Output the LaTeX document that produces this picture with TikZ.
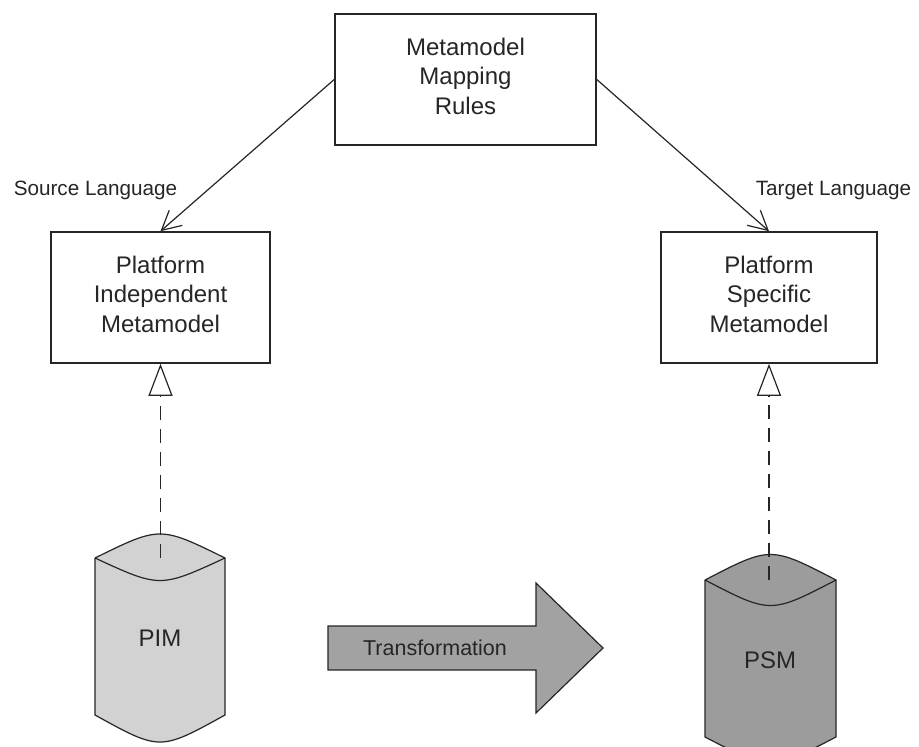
\documentclass[tikz,border=0pt]{standalone}
\usepackage{fontspec}
\setmainfont{Liberation Sans}
\usetikzlibrary{arrows.meta}

\definecolor{ink}{HTML}{262626}
\definecolor{pimfill}{HTML}{D2D2D2}
\definecolor{psmfill}{HTML}{9C9C9C}
\definecolor{transfill}{HTML}{A2A2A2}

\tikzset{
  mmbox/.style={draw=ink, line width=1.6pt, fill=white, inner sep=0pt,
    minimum height=131pt, align=center, text=ink, text depth=7pt,
    font=\fontsize{24}{29.5}\selectfont},
  conn/.style={draw=ink, line width=1.2pt,
    -{Straight Barb[length=19pt, width=20pt, line width=1.2pt]}},
  realizes/.style={draw=ink, line width=1.2pt, dash pattern=on 14pt off 9pt,
    -{Triangle[open, length=32pt, width=24pt, line width=1.2pt]}},
  lbl/.style={text=ink, inner sep=0pt, font=\fontsize{20.7}{24}\selectfont},
  cyl/.style={draw=ink, line width=1.2pt},
  cyltext/.style={text=ink, inner sep=0pt, font=\fontsize{24}{28}\selectfont},
}

\begin{document}
\begin{tikzpicture}[x=1pt, y=-1pt]
  \path[use as bounding box, fill=white] (0,0) rectangle (919,747);

  % metamodel boxes
  \node[mmbox, minimum width=261pt] (mmr) at (465.5,79.5)
    {Metamodel\\Mapping\\Rules};
  \node[mmbox, minimum width=219pt] (pimm) at (160.5,297.5)
    {Platform\\Independent\\Metamodel};
  \node[mmbox, minimum width=216pt] (psmm) at (769,297.5)
    {Platform\\Specific\\Metamodel};

  % language labels
  \node[lbl, anchor=base] (srclbl) at (95.5,195) {Source Language};
  \node[lbl, anchor=base] (tgtlbl) at (833.5,195) {Target Language};

  % mapping rules point to both metamodels
  \draw[conn] (mmr.west) -- (pimm.north);
  \draw[conn] (mmr.east) -- (psmm.north);

  % PIM store
  \fill[pimfill] (95,558) -- (95,715) .. controls (160,751) .. (225,715)
    -- (225,558) .. controls (160,526) .. (95,558) -- cycle;
  \draw[cyl] (95,558) -- (95,715) .. controls (160,751) .. (225,715)
    -- (225,558) .. controls (160,526) .. (95,558);
  \draw[cyl] (95,558) .. controls (160,588) .. (225,558);
  \coordinate (pimtop) at (160.5,558);
  \node[cyltext] (pim) at (160,638) {PIM};

  % PSM store
  \fill[psmfill] (705,580) -- (705,737) .. controls (770.5,771) .. (836,737)
    -- (836,580) .. controls (770.5,546) .. (705,580) -- cycle;
  \draw[cyl] (705,580) -- (705,737) .. controls (770.5,771) .. (836,737)
    -- (836,580) .. controls (770.5,546) .. (705,580);
  \draw[cyl] (705,580) .. controls (770.5,614) .. (836,580);
  \coordinate (psmtop) at (769,580);
  \node[cyltext] (psm) at (770,660) {PSM};

  % models realize their metamodels
  \draw[realizes] (pimtop) -- (pimm.south);
  \draw[realizes] (psmtop) -- (psmm.south);

  % transformation block arrow
  \draw[ink, line width=1.2pt, fill=transfill, line join=miter]
    (328,626) -- (536,626) -- (536,583) -- (603,648) -- (536,713)
    -- (536,670) -- (328,670) -- cycle;
  \node[text=ink, inner sep=0pt, font=\fontsize{21.5}{24}\selectfont]
    (trans) at (435,648) {Transformation};
\end{tikzpicture}
\end{document}
